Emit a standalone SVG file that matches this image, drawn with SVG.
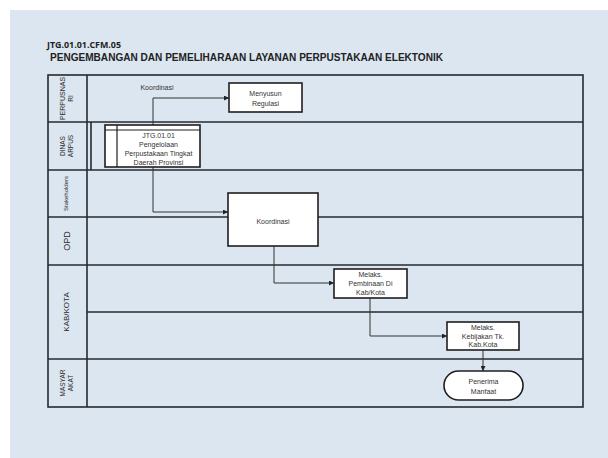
<svg xmlns="http://www.w3.org/2000/svg" width="608" height="458" viewBox="0 0 608 458">
<style>
.frame{fill:none;stroke:#262a30;stroke-width:1.6}
.lane{stroke:#262a30;stroke-width:1.6}
.lbl{font-family:"Liberation Sans",Arial,sans-serif;fill:#2a2a2a;text-anchor:middle}
.box{fill:#ffffff;stroke:#1e1e1e;stroke-width:1.6}
.txt{font-family:"Liberation Sans",Arial,sans-serif;font-size:7px;fill:#333;text-anchor:middle}
.conn{fill:none;stroke:#333;stroke-width:1}
</style>
<defs>
<marker id="arr" viewBox="0 0 10 10" refX="10" refY="5" markerWidth="5" markerHeight="5" orient="auto" markerUnits="userSpaceOnUse">
<path d="M0,0 L10,5 L0,10 Z" fill="#222"/>
</marker>
</defs>
<rect x="0" y="0" width="608" height="458" fill="#ffffff"/>
<rect x="10" y="10" width="598" height="448" fill="#dce6f0"/>
<text x="47" y="48" font-family="'Open Sans','Liberation Sans',sans-serif" font-weight="bold" font-size="8.5" fill="#222" textLength="74" lengthAdjust="spacingAndGlyphs">JTG.01.01.CFM.05</text>
<text x="50" y="61" font-family="'Liberation Sans',Arial,sans-serif" font-weight="bold" font-size="10.5" fill="#222" textLength="393" lengthAdjust="spacingAndGlyphs">PENGEMBANGAN DAN PEMELIHARAAN LAYANAN PERPUSTAKAAN ELEKTONIK</text>
<g id="lanes">
<rect class="frame" x="48" y="75" width="535" height="332"/>
<line class="lane" x1="87" y1="75" x2="87" y2="407"/>
<line class="lane" x1="48" y1="122" x2="583" y2="122"/>
<line class="lane" x1="48" y1="170" x2="583" y2="170"/>
<line class="lane" x1="48" y1="217" x2="583" y2="217"/>
<line class="lane" x1="48" y1="265" x2="583" y2="265"/>
<line class="lane" x1="87" y1="312" x2="583" y2="312"/>
<line class="lane" x1="48" y1="359" x2="583" y2="359"/>
<line class="lane" x1="91" y1="122" x2="91" y2="170"/>
<text class="lbl" font-size="7" transform="translate(65,98.5) rotate(-90)">PERPUSNAS</text>
<text class="lbl" font-size="6.5" transform="translate(73,98.5) rotate(-90)">RI</text>
<text class="lbl" font-size="6.5" transform="translate(65,146) rotate(-90)">DINAS</text>
<text class="lbl" font-size="6.5" transform="translate(72.5,146) rotate(-90)">ARPUS</text>
<text class="lbl" font-size="6" transform="translate(68,193.5) rotate(-90)">Stakeholders</text>
<text class="lbl" font-size="9" transform="translate(69.5,241) rotate(-90)">OPD</text>
<text class="lbl" font-size="8" transform="translate(69,312) rotate(-90)">KAB/KOTA</text>
<text class="lbl" font-size="6.5" transform="translate(64.5,383) rotate(-90)">MASYAR</text>
<text class="lbl" font-size="6.5" transform="translate(72.5,383) rotate(-90)">AKAT</text>
</g>
<g id="connectors">
<path class="conn" d="M153,125 V98 H229" marker-end="url(#arr)"/>
<text class="txt" x="157" y="90" font-size="7.5">Koordinasi</text>
<path class="conn" d="M153,167 V212 H228" marker-end="url(#arr)"/>
<path class="conn" d="M274,246 V283 H334" marker-end="url(#arr)"/>
<path class="conn" d="M370,298 V336 H447" marker-end="url(#arr)"/>
<path class="conn" d="M483,350 V371" marker-end="url(#arr)"/>
</g>
<g id="node-jtg">
<rect class="box" x="105" y="125" width="95" height="42"/>
<line x1="105" y1="130" x2="200" y2="130" stroke="#1e1e1e" stroke-width="1.2"/>
<line x1="117" y1="125" x2="117" y2="167" stroke="#1e1e1e" stroke-width="1.2"/>
<text class="txt" x="158.5" y="138" font-size="6.5">JTG.01.01</text>
<text class="txt" x="158.5" y="147" font-size="6.5">Pengelolaan</text>
<text class="txt" x="158.5" y="156" font-size="6.5">Perpustakaan Tingkat</text>
<text class="txt" x="158.5" y="164.5" font-size="6.5">Daerah Provinsi</text>
</g>
<g id="node-menyusun">
<rect class="box" x="229" y="83" width="73" height="29"/>
<text class="txt" x="265.5" y="96">Menyusun</text>
<text class="txt" x="265.5" y="106">Regulasi</text>
</g>
<g id="node-koordinasi">
<rect class="box" x="228" y="193" width="90" height="53"/>
<text class="txt" x="273" y="224" font-size="9.5">Koordinasi</text>
</g>
<g id="node-pembinaan">
<rect class="box" x="334" y="269" width="73" height="29"/>
<text class="txt" x="370.5" y="276.5">Melaks.</text>
<text class="txt" x="370.5" y="285.5">Pembinaan Di</text>
<text class="txt" x="370.5" y="294.5">Kab/Kota</text>
</g>
<g id="node-kebijakan">
<rect class="box" x="447" y="322" width="72" height="28"/>
<text class="txt" x="483" y="329.5">Melaks.</text>
<text class="txt" x="483" y="338.5">Kebijakan Tk.</text>
<text class="txt" x="483" y="347.2">Kab.Kota</text>
</g>
<g id="node-penerima">
<rect class="box" x="444" y="371" width="79" height="29" rx="14.5" ry="14.5"/>
<text class="txt" x="483.5" y="384">Penerima</text>
<text class="txt" x="483.5" y="393.5">Manfaat</text>
</g>
</svg>
